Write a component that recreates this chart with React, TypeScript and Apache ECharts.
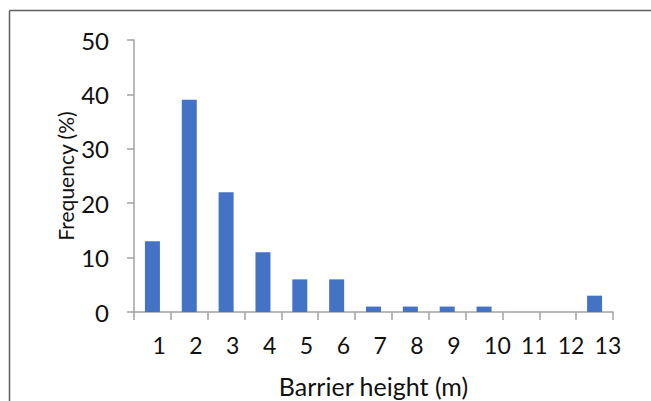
import React, { useEffect, useRef } from "react";
import * as echarts from "echarts";

const categories = ["1", "2", "3", "4", "5", "6", "7", "8", "9", "10", "11", "12", "13"];
const frequency = [13, 39, 22, 11, 6, 6, 1, 1, 1, 1, 0, 0, 3];
const yTicks = { min: 0, max: 50, interval: 10 };

const FONT = "Lato, 'Open Sans', sans-serif";
const TEXT = "#111111";
const AXIS = "#a3a3a3";

export default function App() {
  const ref = useRef<HTMLDivElement>(null);
  useEffect(() => {
    document.body.style.margin = "0";
    const chart = echarts.init(ref.current!, null, { renderer: "svg" });
    chart.setOption({
      animation: false,
      backgroundColor: "#ffffff",
      grid: { left: 134, right: 38, top: 40, bottom: 89, containLabel: false, outerBoundsMode: "none" },
      xAxis: {
        type: "category",
        data: categories,
        boundaryGap: true,
        name: "Barrier height (m)",
        nameLocation: "middle",
        nameGap: 61,
        nameTextStyle: { fontFamily: FONT, fontSize: 25, color: TEXT },
        axisLine: { lineStyle: { color: AXIS, width: 1.5 } },
        axisTick: { show: true, length: 8, alignWithLabel: false, lineStyle: { color: AXIS, width: 1.5 } },
        axisLabel: {
          fontFamily: FONT,
          fontSize: 23,
          color: TEXT,
          margin: 21,
          interval: 0,
          align: "left",
        },
      },
      yAxis: {
        type: "value",
        min: yTicks.min,
        max: yTicks.max,
        interval: yTicks.interval,
        name: "Frequency (%)",
        nameLocation: "middle",
        nameGap: 58,
        nameMoveOverlap: false,
        nameTextStyle: { fontFamily: FONT, fontSize: 21, color: TEXT },
        splitLine: { show: false },
        axisLine: { show: true, lineStyle: { color: AXIS, width: 1.5 } },
        axisTick: { show: true, length: 7, lineStyle: { color: AXIS, width: 1.5 } },
        axisLabel: { fontFamily: FONT, fontSize: 24, color: TEXT, margin: 25 },
      },
      series: [
        {
          type: "bar",
          data: frequency,
          barWidth: 15,
          itemStyle: { color: "#4472C4" },
        },
      ],
      graphic: [
        { type: "line", shape: { x1: 9.5, y1: 10.5, x2: 651, y2: 10.5 }, style: { stroke: "#5e5e5e", lineWidth: 1.5 } },
        { type: "line", shape: { x1: 9.5, y1: 10.5, x2: 9.5, y2: 401 }, style: { stroke: "#5e5e5e", lineWidth: 1.5 } },
      ],
    });
    return () => chart.dispose();
  }, []);
  return <div ref={ref} style={{ width: 651, height: 401 }} />;
}
